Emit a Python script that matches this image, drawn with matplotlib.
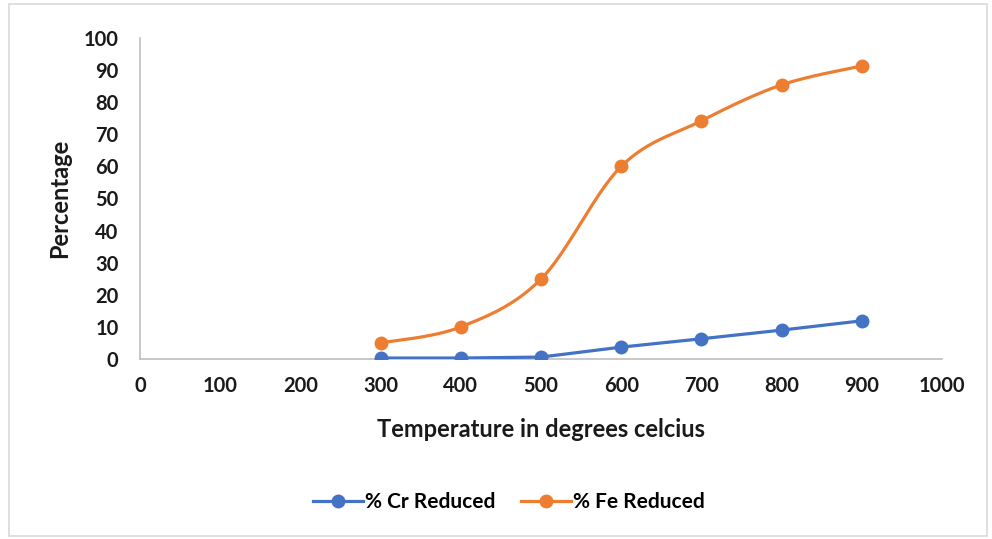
import numpy as np
import matplotlib
matplotlib.use("Agg")
import matplotlib.pyplot as plt
from matplotlib.patches import Rectangle

# Reduction data vs. temperature
temperature = [300, 400, 500, 600, 700, 800, 900]
cr_reduced = [0.3, 0.3, 0.6, 3.7, 6.3, 9.0, 11.9]
fe_reduced = [5.0, 10.0, 24.9, 60.0, 74.2, 85.4, 91.3]

x_ticks = [0, 100, 200, 300, 400, 500, 600, 700, 800, 900, 1000]
y_ticks = [0, 10, 20, 30, 40, 50, 60, 70, 80, 90, 100]

BLUE = "#4472C4"
ORANGE = "#ED7D31"
TEXT = "#1a1a1a"
FONT = "Lato"


def smooth_curve(xs, ys, n=40):
    """Catmull-Rom style cubic Bezier smoothing through every point."""
    xs = np.asarray(xs, float)
    ys = np.asarray(ys, float)
    pts = np.column_stack([xs, ys])
    out = [pts[0]]
    for i in range(len(pts) - 1):
        p0 = pts[i - 1] if i > 0 else pts[i]
        p1 = pts[i]
        p2 = pts[i + 1]
        p3 = pts[i + 2] if i + 2 < len(pts) else pts[i + 1]
        c1 = p1 + (p2 - p0) / 6.0
        c2 = p2 - (p3 - p1) / 6.0
        t = np.linspace(0, 1, n)[1:, None]
        seg = ((1 - t) ** 3) * p1 + 3 * ((1 - t) ** 2) * t * c1 \
            + 3 * (1 - t) * t ** 2 * c2 + t ** 3 * p2
        out.extend(seg)
    out = np.array(out)
    return out[:, 0], out[:, 1]


fig = plt.figure(figsize=(9.92, 5.39), dpi=100)
ax = fig.add_axes([140 / 992, 1 - 359 / 539, 802 / 992, 321 / 539])

# outer chart frame
fig.patches.append(Rectangle((9 / 992, 3 / 539), 978 / 992, 532 / 539,
                             transform=fig.transFigure, fill=False,
                             edgecolor="#d9d9d9", linewidth=1.2))

# Cr: straight segments
ax.plot(temperature, cr_reduced, color=BLUE, linewidth=2.3, zorder=3)
ax.plot(temperature, cr_reduced, linestyle="none", marker="o",
        markersize=9, color=BLUE, zorder=4)

# Fe: smoothed curve
sx, sy = smooth_curve(temperature, fe_reduced)
ax.plot(sx, sy, color=ORANGE, linewidth=2.3, zorder=3)
ax.plot(temperature, fe_reduced, linestyle="none", marker="o",
        markersize=9, color=ORANGE, zorder=4)

ax.set_xlim(0, 1000)
ax.set_ylim(0, 100)
ax.set_xticks(x_ticks)
ax.set_yticks(y_ticks)
ax.set_xticklabels([str(v) for v in x_ticks], fontsize=14.5, fontweight="bold",
                   family=FONT, color=TEXT)
ax.set_yticklabels([str(v) for v in y_ticks], fontsize=14.5, fontweight="bold",
                   family=FONT, color=TEXT)
ax.tick_params(axis="both", length=0)
ax.tick_params(axis="x", pad=12.5)
ax.tick_params(axis="y", pad=15.5)

for side in ["top", "right"]:
    ax.spines[side].set_visible(False)
for side in ["left", "bottom"]:
    ax.spines[side].set_color("#bfbfbf")
    ax.spines[side].set_linewidth(1.2)

ax.set_xlabel("Temperature in degrees celcius", fontsize=17, fontweight="bold",
              family=FONT, color=TEXT, labelpad=15.5)
ax.set_ylabel("Percentage", fontsize=17, fontweight="bold",
              family=FONT, color=TEXT, labelpad=9)

# legend entries combine line and marker
h1, = ax.plot([], [], color=BLUE, linewidth=2.3, marker="o", markersize=9)
h2, = ax.plot([], [], color=ORANGE, linewidth=2.3, marker="o", markersize=9)
fig.legend([h1, h2], ["% Cr Reduced", "% Fe Reduced"],
           loc="center", bbox_to_anchor=(509 / 992, 1 - 502 / 539),
           ncol=2, frameon=False, handlelength=2.4, handletextpad=0.1,
           columnspacing=1.2,
           prop={"family": FONT, "weight": "bold", "size": 15})

fig.savefig("out.png", dpi=100, facecolor="white")
